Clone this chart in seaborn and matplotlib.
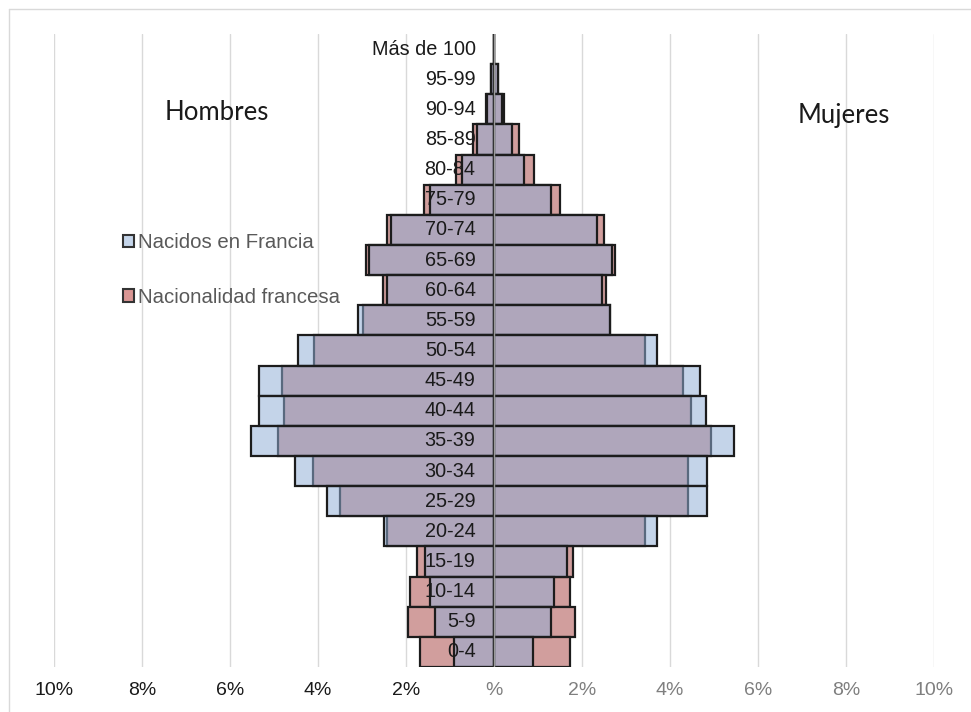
import matplotlib
matplotlib.use("Agg")
import matplotlib.pyplot as plt
from matplotlib.patches import Patch
from matplotlib.lines import Line2D
import seaborn as sns
import pandas as pd

# Age groups, oldest at the top
age_groups = ["Más de 100", "95-99", "90-94", "85-89", "80-84", "75-79", "70-74",
              "65-69", "60-64", "55-59", "50-54", "45-49", "40-44", "35-39",
              "30-34", "25-29", "20-24", "15-19", "10-14", "5-9", "0-4"]

# Share of the population (%) born in France
nacidos_hombres = [0.01, 0.07, 0.17, 0.39, 0.72, 1.46, 2.35, 2.83, 2.44, 3.08, 4.45,
                   5.35, 5.34, 5.53, 4.52, 3.80, 2.50, 1.56, 1.46, 1.33, 0.91]
nacidos_mujeres = [0.01, 0.08, 0.19, 0.42, 0.68, 1.29, 2.33, 2.69, 2.45, 2.63, 3.71,
                   4.69, 4.81, 5.46, 4.85, 4.85, 3.70, 1.67, 1.37, 1.29, 0.89]

# Share of the population (%) with French nationality
nacionalidad_hombres = [0.01, 0.07, 0.18, 0.48, 0.87, 1.60, 2.44, 2.92, 2.52, 2.97, 4.08,
                        4.81, 4.78, 4.92, 4.11, 3.51, 2.44, 1.74, 1.92, 1.96, 1.69]
nacionalidad_mujeres = [0.01, 0.08, 0.22, 0.57, 0.91, 1.50, 2.50, 2.76, 2.54, 2.64, 3.43,
                        4.29, 4.47, 4.93, 4.42, 4.42, 3.43, 1.79, 1.73, 1.84, 1.73]

x_ticks = [-10, -8, -6, -4, -2, 0, 2, 4, 6, 8, 10]
x_tick_labels = ["10%", "8%", "6%", "4%", "2%", "%", "2%", "4%", "6%", "8%", "10%"]

series_labels = ["Nacidos en Francia", "Nacionalidad francesa"]
side_labels = ["Hombres", "Mujeres"]

BLUE = (145 / 255, 175 / 255, 215 / 255)
BLUE_ALPHA = 0.53
BLUE_LEGEND = "#C5D5EA"
PINK = "#DA9694"
EDGE = "#1c1c1c"

sns.set_theme(style="white")
plt.rcParams["font.family"] = ["Liberation Sans", "DejaVu Sans"]

W, H = 971, 712
fig = plt.figure(figsize=(W / 100, H / 100), dpi=100)
ax = fig.add_axes([54 / W, 1 - 667 / H, 880 / W, 633 / H])

df = pd.DataFrame({
    "edad": age_groups,
    "nac_h": [-v for v in nacidos_hombres],
    "nac_m": nacidos_mujeres,
    "nat_h": [-v for v in nacionalidad_hombres],
    "nat_m": nacionalidad_mujeres,
})

bar_kw = dict(y="edad", order=age_groups, orient="h", width=1.0,
              edgecolor=EDGE, linewidth=1.6, ax=ax, zorder=2)

# Nationality bars underneath (opaque)
sns.barplot(data=df, x="nat_h", color=PINK, **bar_kw)
sns.barplot(data=df, x="nat_m", color=PINK, **bar_kw)
n_under = len(ax.patches)

# Born-in-France bars on top, translucent fill with solid edges
sns.barplot(data=df, x="nac_h", color=BLUE, **bar_kw)
sns.barplot(data=df, x="nac_m", color=BLUE, **bar_kw)
for p in ax.patches[n_under:]:
    p.set_facecolor((*BLUE, BLUE_ALPHA))
    p.set_zorder(3)

ax.set_xlim(-10, 10)
ax.set_ylim(len(age_groups) - 0.5, -0.5)
ax.set_xlabel("")
ax.set_ylabel("")
ax.set_yticks([])
for s in ax.spines.values():
    s.set_visible(False)

# Vertical gridlines and the central axis
for xt in x_ticks:
    if xt != 0:
        ax.axvline(xt, color="#d9d9d9", lw=1.0, zorder=0)
ax.axvline(0, color="#9a9a9a", lw=1.0, zorder=6)

ax.set_xticks(x_ticks)
ax.set_xticklabels(x_tick_labels, fontsize=14)
ax.tick_params(axis="x", length=0, pad=11)
for lbl, xt in zip(ax.get_xticklabels(), x_ticks):
    lbl.set_color("#1a1a1a" if xt < 0 else "#7f7f7f")

# Age group labels in the centre
for i, g in enumerate(age_groups):
    ax.text(-0.42, i, g, ha="right", va="center", fontsize=14.3,
            color="#1a1a1a", zorder=7)

# Side titles
fig.text(217 / W, 1 - 113 / H, side_labels[0], ha="center", va="center",
         fontsize=18.5, family=["Lato", "DejaVu Sans"], color="#1a1a1a")
fig.text(844 / W, 1 - 115 / H, side_labels[1], ha="center", va="center",
         fontsize=18.5, family=["Lato", "DejaVu Sans"], color="#1a1a1a")

# Legend
handles = [Patch(facecolor=BLUE_LEGEND, edgecolor="#333333", linewidth=1.5),
           Patch(facecolor=PINK, edgecolor="#333333", linewidth=1.5)]
leg = fig.legend(handles, series_labels, loc="upper left",
                 bbox_to_anchor=(123 / W, 1 - 233 / H), bbox_transform=fig.transFigure,
                 frameon=False, fontsize=14.7, handlelength=0.55, handleheight=0.55,
                 handletextpad=0.2, labelspacing=1.75, borderpad=0, borderaxespad=0)
for t in leg.get_texts():
    t.set_color("#595959")

# Chart-area frame (top and left edges)
fig.add_artist(Line2D([8.5 / W, 8.5 / W], [0, 1 - 9 / H], transform=fig.transFigure,
                      color="#d9d9d9", lw=1.0))
fig.add_artist(Line2D([8.5 / W, 1], [1 - 9 / H, 1 - 9 / H], transform=fig.transFigure,
                      color="#d9d9d9", lw=1.0))

fig.savefig("out.png", dpi=100)
